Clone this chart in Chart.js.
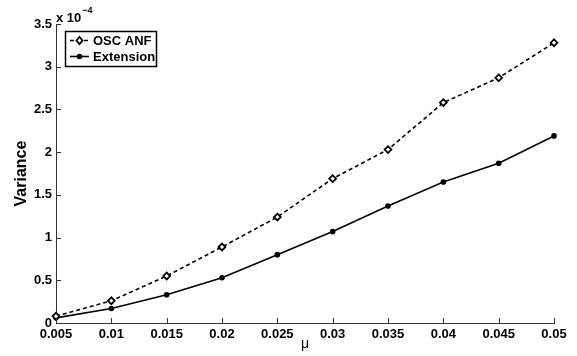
<!DOCTYPE html>
<html>
<head>
<meta charset="utf-8">
<script src="https://cdn.jsdelivr.net/npm/chart.js@4.4.0/dist/chart.umd.min.js"></script>
<style>
  html, body { margin: 0; padding: 0; background: #fff; }
  #wrap { width: 577px; height: 356px; }
</style>
</head>
<body>
<div id="wrap"><canvas id="chart" width="577" height="356"></canvas></div>
<script>
// step sizes (mu)
const muValues = [0.005, 0.01, 0.015, 0.02, 0.025, 0.03, 0.035, 0.04, 0.045, 0.05];
const xTickLabels = ['0.005', '0.01', '0.015', '0.02', '0.025', '0.03', '0.035', '0.04', '0.045', '0.05'];
// variance, in units of 1e-4
const oscAnf = [0.08, 0.26, 0.55, 0.89, 1.24, 1.69, 2.03, 2.58, 2.87, 3.28];
const extension = [0.06, 0.17, 0.33, 0.53, 0.80, 1.07, 1.37, 1.65, 1.87, 2.19];
const yTickLabels = ['0', '0.5', '1', '1.5', '2', '2.5', '3', '3.5'];

const FONT = 'Liberation Sans, Arial, Helvetica, sans-serif';

const toPoints = (ys) => muValues.map((x, i) => ({ x: x, y: ys[i] }));

// MATLAB style inward ticks, exponent label and boxed legend
const matlabBits = {
  id: 'matlabBits',
  afterDraw(chart) {
    const ctx = chart.ctx;
    const xs = chart.scales.x, ys = chart.scales.y;
    const area = chart.chartArea;
    ctx.save();
    ctx.strokeStyle = '#333';
    ctx.lineWidth = 1;
    ctx.beginPath();
    muValues.forEach(v => {
      const px = Math.round(xs.getPixelForValue(v)) + 0.5;
      ctx.moveTo(px, area.bottom);
      ctx.lineTo(px, area.bottom - 5);
    });
    for (let i = 0; i < yTickLabels.length; i++) {
      const py = Math.round(ys.getPixelForValue(i * 0.5)) + 0.5;
      ctx.moveTo(area.left, py);
      ctx.lineTo(area.left + 5, py);
    }
    ctx.stroke();

    // exponent
    ctx.fillStyle = '#000';
    ctx.textBaseline = 'alphabetic';
    ctx.font = 'bold 13px ' + FONT;
    ctx.fillText('x 10', 56, 22);
    const w = ctx.measureText('x 10').width;
    ctx.font = 'bold 9px ' + FONT;
    ctx.fillText('\u22124', 56 + w + 1, 13);

    // legend
    const bx = 65.5, by = 31.5, bw = 91, bh = 35;
    ctx.fillStyle = '#fff';
    ctx.fillRect(bx, by, bw, bh);
    ctx.strokeStyle = '#000';
    ctx.lineWidth = 1.5;
    ctx.strokeRect(bx, by, bw, bh);
    const rows = [
      { label: 'OSC ANF', y: 40.5, ds: chart.data.datasets[0] },
      { label: 'Extension', y: 56.5, ds: chart.data.datasets[1] }
    ];
    rows.forEach(r => {
      ctx.strokeStyle = '#000';
      ctx.lineWidth = 1.6;
      ctx.setLineDash(r.ds.borderDash || []);
      ctx.beginPath();
      ctx.moveTo(70, r.y);
      ctx.lineTo(89, r.y);
      ctx.stroke();
      ctx.setLineDash([]);
      if (r.ds.pointStyle === 'rectRot') {
        ctx.beginPath();
        ctx.moveTo(79.5, r.y - 3.5);
        ctx.lineTo(82.5, r.y);
        ctx.lineTo(79.5, r.y + 3.5);
        ctx.lineTo(76.5, r.y);
        ctx.closePath();
        ctx.fillStyle = '#fff';
        ctx.fill();
        ctx.lineWidth = 1.8;
        ctx.stroke();
      } else {
        ctx.beginPath();
        ctx.arc(79.5, r.y, 2.8, 0, Math.PI * 2);
        ctx.fillStyle = '#000';
        ctx.fill();
      }
      ctx.fillStyle = '#000';
      ctx.font = 'bold 13px ' + FONT;
      ctx.textBaseline = 'middle';
      ctx.fillText(r.label, 93, r.y + 0.5);
    });
    ctx.restore();
  }
};

new Chart(document.getElementById('chart'), {
  type: 'line',
  data: {
    datasets: [
      {
        label: 'OSC ANF',
        data: toPoints(oscAnf),
        borderColor: '#000',
        borderWidth: 1.6,
        borderDash: [4, 3],
        pointStyle: 'rectRot',
        pointRadius: 3.4,
        pointBorderWidth: 1.8,
        pointBackgroundColor: '#fff',
        pointBorderColor: '#000',
        tension: 0,
        clip: false
      },
      {
        label: 'Extension',
        data: toPoints(extension),
        borderColor: '#000',
        borderWidth: 1.6,
        pointStyle: 'circle',
        pointRadius: 2.8,
        pointBorderWidth: 0,
        pointBackgroundColor: '#000',
        tension: 0,
        clip: false
      }
    ]
  },
  options: {
    responsive: false,
    animation: false,
    devicePixelRatio: 1,
    layout: { padding: { left: 0, right: 23, top: 24, bottom: 0 } },
    plugins: { legend: { display: false }, tooltip: { enabled: false } },
    scales: {
      x: {
        type: 'linear',
        min: 0.005,
        max: 0.05,
        afterFit: (s) => { s.height = 33; },
        afterBuildTicks: (s) => { s.ticks = muValues.map(v => ({ value: v })); },
        grid: { display: false, drawTicks: false },
        border: { display: true, color: '#333', width: 1 },
        ticks: {
          padding: 4,
          color: '#000',
          font: { family: FONT, size: 13, weight: 'bold' },
          callback: (v, i) => xTickLabels[i],
          maxRotation: 0,
          autoSkip: false
        },
        title: {
          display: true,
          text: '\u03bc',
          color: '#000',
          font: { family: FONT, size: 14 },
          padding: { top: 0, bottom: 3 }
        }
      },
      y: {
        type: 'linear',
        min: 0,
        max: 3.5,
        afterFit: (s) => { s.width = 56; },
        afterBuildTicks: (s) => { s.ticks = yTickLabels.map((t, i) => ({ value: i * 0.5 })); },
        grid: { display: false, drawTicks: false },
        border: { display: true, color: '#333', width: 1 },
        ticks: {
          padding: 4,
          color: '#000',
          font: { family: FONT, size: 13, weight: 'bold' },
          callback: (v, i) => yTickLabels[i],
          autoSkip: false
        },
        title: {
          display: true,
          text: 'Variance',
          color: '#000',
          font: { family: FONT, size: 16, weight: 'bold' },
          padding: { top: 12, bottom: 0 }
        }
      }
    }
  },
  plugins: [matlabBits]
});
</script>
</body>
</html>
